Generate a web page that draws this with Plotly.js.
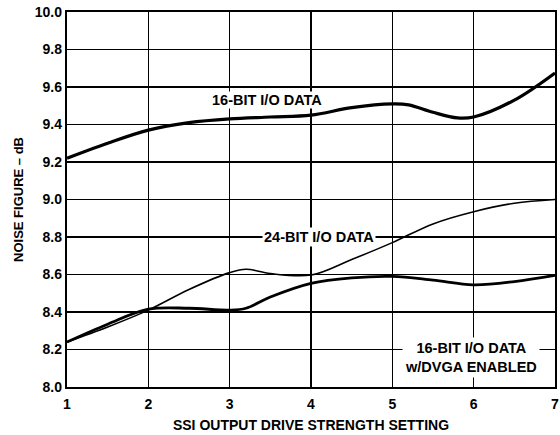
<!DOCTYPE html>
<html><head><meta charset="utf-8">
<script src="https://cdn.plot.ly/plotly-3.0.1.min.js"></script>
<style>body{margin:0;background:#fff}#c{width:560px;height:435px}</style>
</head><body><div id="c"></div>
<script>
const x16 = [1, 1.5, 2, 2.5, 3, 3.5, 4, 4.5, 5, 5.2, 5.5, 5.8, 6, 6.5, 7];
const y16 = [9.22, 9.30, 9.37, 9.41, 9.43, 9.44, 9.45, 9.49, 9.51, 9.505, 9.465, 9.435, 9.44, 9.53, 9.675];
const x24 = [1, 1.5, 2, 2.5, 3, 3.2, 3.5, 4, 4.5, 5, 5.5, 6, 6.5, 7];
const y24 = [8.24, 8.32, 8.41, 8.52, 8.61, 8.628, 8.605, 8.597, 8.68, 8.77, 8.87, 8.935, 8.98, 9.0];
const xDv = [1, 1.5, 2, 2.5, 3, 3.2, 3.5, 4, 4.5, 5, 5.5, 6, 6.5, 7];
const yDv = [8.24, 8.335, 8.415, 8.42, 8.41, 8.42, 8.48, 8.553, 8.582, 8.59, 8.57, 8.545, 8.562, 8.595];
const xTicks = [1, 2, 3, 4, 5, 6, 7];
const yTicks = [8.0, 8.2, 8.4, 8.6, 8.8, 9.0, 9.2, 9.4, 9.6, 9.8, 10.0];
const labels = ["16-BIT I/O DATA", "24-BIT I/O DATA", "16-BIT I/O DATA<br>w/DVGA ENABLED"];

const F = "Liberation Sans, Arial, sans-serif";
const traces = [
  {x: x16, y: y16, mode: "lines", line: {color: "#000", width: 3.2, shape: "spline"}},
  {x: x24, y: y24, mode: "lines", line: {color: "#000", width: 1.6, shape: "spline"}},
  {x: xDv, y: yDv, mode: "lines", line: {color: "#000", width: 2.8, shape: "spline"}}
];
const layout = {
  width: 560, height: 435,
  margin: {l: 67, r: 5, t: 12, b: 48},
  paper_bgcolor: "#fff", plot_bgcolor: "#fff",
  showlegend: false,
  font: {family: F, color: "#000"},
  xaxis: {
    range: [1, 7], tickvals: xTicks, ticktext: xTicks.map(v => "<b>" + v + "</b>"),
    showgrid: true, gridcolor: "#000", gridwidth: 1.3, zeroline: false,
    showline: true, linecolor: "#000", linewidth: 2.2, mirror: true,
    ticks: "", ticklabelstandoff: 3, tickfont: {size: 14, family: F},
    title: {text: "<b>SSI OUTPUT DRIVE STRENGTH SETTING</b>", font: {size: 14, family: F}, standoff: 9}
  },
  yaxis: {
    range: [8.0, 10.0], tickvals: yTicks, ticktext: yTicks.map(v => "<b>" + v.toFixed(1) + "</b>"),
    showgrid: true, gridcolor: "#000", gridwidth: 1.3, zeroline: false,
    showline: true, linecolor: "#000", linewidth: 2.2, mirror: true,
    ticks: "", tickfont: {size: 14, family: F},
    title: {text: "<b>NOISE FIGURE – dB</b>", font: {size: 13, family: F}, standoff: 8}
  },
  annotations: [
    {x: 3.46, y: 9.53, text: "<b>" + labels[0] + "</b>", showarrow: false, font: {size: 14.5, family: F}, bgcolor: "#fff", borderpad: 0},
    {x: 4.1, y: 8.8, text: "<b>" + labels[1] + "</b>", showarrow: false, font: {size: 14.5, family: F}, bgcolor: "#fff", borderpad: 1},
    {x: 5.97, y: 8.155, text: "<b>" + labels[2] + "</b>", showarrow: false, font: {size: 14.5, family: F}, bgcolor: "#fff", borderpad: 2}
  ]
};
Plotly.newPlot("c", traces, layout, {displayModeBar: false, staticPlot: true});
</script></body></html>
